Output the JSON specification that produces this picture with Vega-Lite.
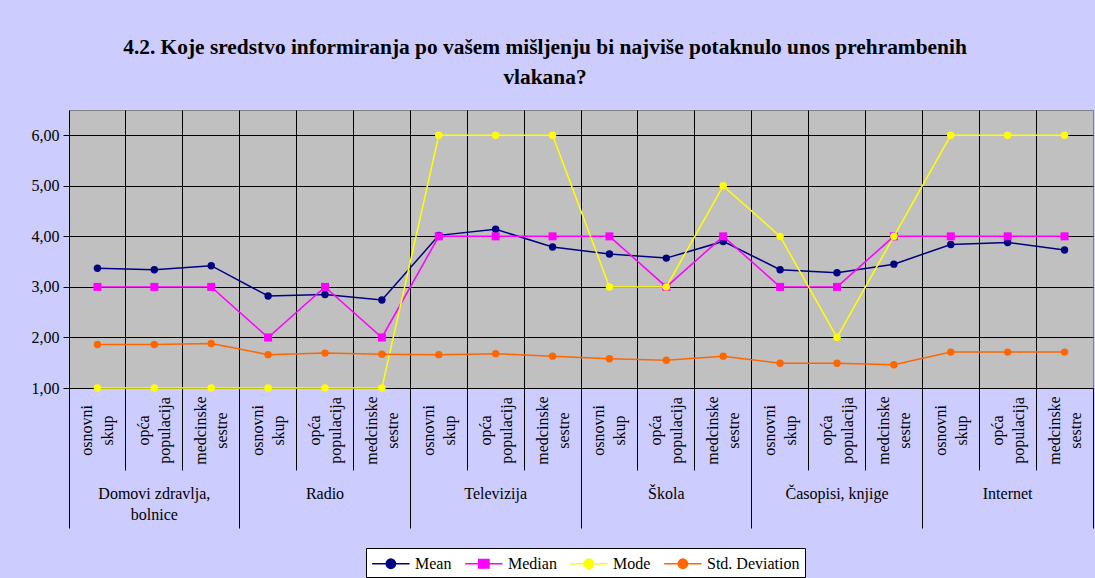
{
  "$schema": "https://vega.github.io/schema/vega-lite/v6.json",
  "width": 1024,
  "height": 278,
  "autosize": {"type": "none"},
  "padding": {"left": 69, "top": 110, "right": 2, "bottom": 190},
  "background": "#CCCCFF",
  "title": {
    "text": ["4.2. Koje sredstvo informiranja po vašem mišljenju bi najviše potaknulo unos prehrambenih", "vlakana?"],
    "font": "Liberation Serif",
    "fontSize": 21.4,
    "fontWeight": "bold",
    "color": "black",
    "lineHeight": 30,
    "anchor": "middle",
    "dx": -36,
    "offset": 22
  },
  "config": {
    "view": {"fill": "#C0C0C0", "stroke": "#808080", "strokeWidth": 1},
    "font": "Liberation Serif",
    "legend": {
      "fillColor": "white",
      "strokeColor": "black",
      "padding": 5,
      "labelFont": "Liberation Serif",
      "labelFontSize": 16,
      "labelColor": "black"
    }
  },
  "data": {
    "values": [
      {"g": "Domovi zdravlja, bolnice", "s": "osnovni skup", "k": "Domovi zdravlja, bolnice|osnovni skup", "mean": 3.37, "median": 3, "mode": 1, "std": 1.86},
      {"g": "Domovi zdravlja, bolnice", "s": "opća populacija", "k": "Domovi zdravlja, bolnice|opća populacija", "mean": 3.34, "median": 3, "mode": 1, "std": 1.86},
      {"g": "Domovi zdravlja, bolnice", "s": "medcinske sestre", "k": "Domovi zdravlja, bolnice|medcinske sestre", "mean": 3.42, "median": 3, "mode": 1, "std": 1.88},
      {"g": "Radio", "s": "osnovni skup", "k": "Radio|osnovni skup", "mean": 2.82, "median": 2, "mode": 1, "std": 1.66},
      {"g": "Radio", "s": "opća populacija", "k": "Radio|opća populacija", "mean": 2.85, "median": 3, "mode": 1, "std": 1.69},
      {"g": "Radio", "s": "medcinske sestre", "k": "Radio|medcinske sestre", "mean": 2.74, "median": 2, "mode": 1, "std": 1.67},
      {"g": "Televizija", "s": "osnovni skup", "k": "Televizija|osnovni skup", "mean": 4.02, "median": 4, "mode": 6, "std": 1.66},
      {"g": "Televizija", "s": "opća populacija", "k": "Televizija|opća populacija", "mean": 4.14, "median": 4, "mode": 6, "std": 1.68},
      {"g": "Televizija", "s": "medcinske sestre", "k": "Televizija|medcinske sestre", "mean": 3.79, "median": 4, "mode": 6, "std": 1.63},
      {"g": "Škola", "s": "osnovni skup", "k": "Škola|osnovni skup", "mean": 3.65, "median": 4, "mode": 3, "std": 1.58},
      {"g": "Škola", "s": "opća populacija", "k": "Škola|opća populacija", "mean": 3.57, "median": 3, "mode": 3, "std": 1.55},
      {"g": "Škola", "s": "medcinske sestre", "k": "Škola|medcinske sestre", "mean": 3.9, "median": 4, "mode": 5, "std": 1.63},
      {"g": "Časopisi, knjige", "s": "osnovni skup", "k": "Časopisi, knjige|osnovni skup", "mean": 3.34, "median": 3, "mode": 4, "std": 1.49},
      {"g": "Časopisi, knjige", "s": "opća populacija", "k": "Časopisi, knjige|opća populacija", "mean": 3.28, "median": 3, "mode": 2, "std": 1.49},
      {"g": "Časopisi, knjige", "s": "medcinske sestre", "k": "Časopisi, knjige|medcinske sestre", "mean": 3.45, "median": 4, "mode": 4, "std": 1.46},
      {"g": "Internet", "s": "osnovni skup", "k": "Internet|osnovni skup", "mean": 3.84, "median": 4, "mode": 6, "std": 1.71},
      {"g": "Internet", "s": "opća populacija", "k": "Internet|opća populacija", "mean": 3.88, "median": 4, "mode": 6, "std": 1.71},
      {"g": "Internet", "s": "medcinske sestre", "k": "Internet|medcinske sestre", "mean": 3.73, "median": 4, "mode": 6, "std": 1.71}
    ]
  },
  "layer": [
    {
      "mark": {"type": "line", "strokeWidth": 1.5, "point": {"filled": true, "size": 55}},
      "encoding": {
        "x": {
          "field": "k", "type": "nominal", "sort": null,
          "scale": {"type": "band", "paddingInner": 0, "paddingOuter": 0},
          "axis": {
            "orient": "bottom", "title": null, "bandPosition": 0,
            "domain": true, "domainColor": "black",
            "ticks": true, "tickSize": 82, "tickColor": "black", "tickWidth": 1,
            "grid": true, "gridColor": "black", "gridWidth": 1,
            "labelExpr": "split(split(datum.value, '|')[1], ' ')",
            "labelAngle": 270, "labelAlign": "center", "labelBaseline": "middle",
            "labelOffset": -10, "labelPadding": -40, "labelLineHeight": 21,
            "labelFont": "Liberation Serif", "labelFontSize": 16, "labelColor": "black",
            "labelOverlap": false, "labelBound": false, "labelFlush": false
          }
        },
        "y": {
          "field": "mean", "type": "quantitative", "title": null,
          "scale": {"domain": [1, 6.5], "nice": false, "zero": false},
          "axis": {
            "values": [1, 2, 3, 4, 5, 6], "domain": false,
            "tickSize": 6, "tickColor": "black", "grid": true, "gridColor": "black", "gridWidth": 1, "gridOpacity": 1,
            "labelExpr": "replace(format(datum.value, '.2f'), '.', ',')",
            "labelFont": "Liberation Serif", "labelFontSize": 16, "labelColor": "black", "labelPadding": 4
          }
        },
        "color": {
          "datum": "Mean",
          "scale": {"domain": ["Mean", "Median", "Mode", "Std. Deviation"], "range": ["#000080", "#FF00FF", "#FFFF00", "#FF6600"]},
          "legend": {
            "title": null, "orient": "none", "direction": "horizontal",
            "legendX": 297, "legendY": 438,
            "symbolSize": 350, "symbolStrokeWidth": 1.5, "labelOffset": 23, "columnPadding": 10,
            "encode": {
              "symbols": {
                "update": {
                  "shape": {"signal": "datum.value === 'Median' ? 'M-1,0H3M0.45,-0.45H1.55V0.45H0.45Z' : 'M-1,0H3M1.5,0A0.5,0.5,0,1,1,0.5,0A0.5,0.5,0,1,1,1.5,0Z'"},
                  "fill": {"scale": "color", "field": "value"},
                  "stroke": {"scale": "color", "field": "value"},
                  "strokeWidth": {"value": 1.5},
                  "opacity": {"value": 1}
                }
              }
            }
          }
        }
      }
    },
    {
      "mark": {"type": "line", "strokeWidth": 1.5, "point": {"filled": true, "size": 64, "shape": "square"}},
      "encoding": {
        "x": {
          "field": "k", "type": "nominal", "sort": null,
          "scale": {"type": "band", "paddingInner": 0, "paddingOuter": 0},
          "axis": {
            "orient": "bottom", "title": null, "bandPosition": 0,
            "domain": false, "grid": false, "labels": false,
            "ticks": true, "tickSize": 140, "tickColor": "black", "tickWidth": 1,
            "tickOpacity": {"condition": {"test": "indexof(datum.value, '|osnovni skup') >= 0", "value": 1}, "value": 0}
          }
        },
        "y": {
          "field": "median", "type": "quantitative", "title": null,
          "scale": {"domain": [1, 6.5], "nice": false, "zero": false}
        },
        "color": {"datum": "Median"}
      }
    },
    {
      "mark": {"type": "line", "strokeWidth": 1.5, "point": {"filled": true, "size": 55}},
      "encoding": {
        "x": {
          "field": "k", "type": "nominal", "sort": null,
          "scale": {"type": "band", "paddingInner": 0, "paddingOuter": 0},
          "axis": {
            "orient": "bottom", "title": null,
            "domain": false, "grid": false, "ticks": false,
            "labelExpr": "indexof(datum.value, '|opća') >= 0 ? (indexof(datum.value, 'Domovi') === 0 ? ['Domovi zdravlja,', 'bolnice'] : split(datum.value, '|')[0]) : ''",
            "labelAngle": 0, "labelAlign": "center", "labelBaseline": "top",
            "labelPadding": 97, "labelLineHeight": 21,
            "labelFont": "Liberation Serif", "labelFontSize": 16, "labelColor": "black",
            "labelOverlap": false, "labelBound": false, "labelFlush": false
          }
        },
        "y": {
          "field": "mode", "type": "quantitative", "title": null,
          "scale": {"domain": [1, 6.5], "nice": false, "zero": false}
        },
        "color": {"datum": "Mode"}
      }
    },
    {
      "mark": {"type": "line", "strokeWidth": 1.5, "point": {"filled": true, "size": 55}},
      "encoding": {
        "x": {
          "field": "k", "type": "nominal", "sort": null,
          "scale": {"type": "band", "paddingInner": 0, "paddingOuter": 0},
          "axis": {
            "orient": "bottom", "title": null, "bandPosition": 1,
            "domain": false, "grid": false, "labels": false,
            "ticks": true, "tickSize": 140, "tickColor": "black", "tickWidth": 1,
            "tickOpacity": {"condition": {"test": "datum.value === 'Internet|medcinske sestre'", "value": 1}, "value": 0}
          }
        },
        "y": {
          "field": "std", "type": "quantitative", "title": null,
          "scale": {"domain": [1, 6.5], "nice": false, "zero": false}
        },
        "color": {"datum": "Std. Deviation"}
      }
    }
  ],
  "resolve": {"axis": {"x": "independent"}}
}
